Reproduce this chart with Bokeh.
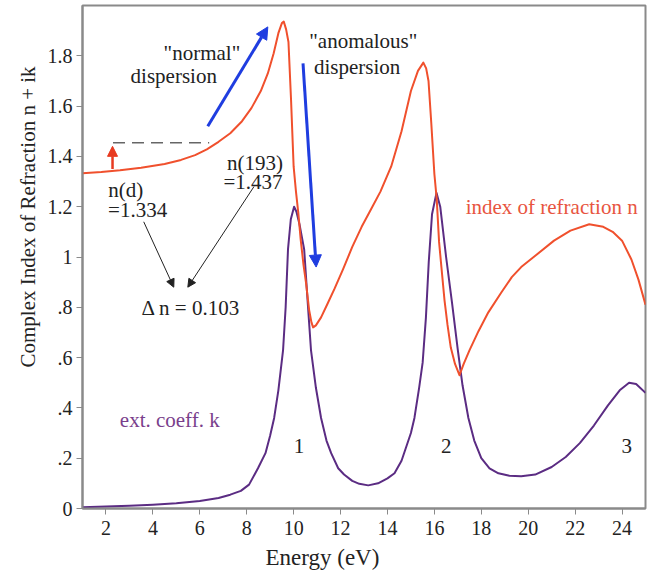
import math
from bokeh.plotting import figure
from bokeh.models import (ColumnDataSource, FixedTicker, Label, Arrow,
                          NormalHead, Title)
from bokeh.embed import file_html
from bokeh.resources import INLINE

# ---- data ----
n_energy = [1.0, 1.8, 2.6, 3.5, 4.5, 5.2, 5.8, 6.3, 6.8, 7.3, 7.8, 8.2, 8.6, 8.9,
            9.15, 9.35, 9.5, 9.58, 9.68, 9.78, 9.89, 10.0, 10.1, 10.2, 10.3,
            10.42, 10.53, 10.66, 10.76, 10.83, 10.95, 11.17, 11.45, 11.75, 12.1,
            12.5, 12.9, 13.3, 13.7, 14.16, 14.6, 15.0, 15.3, 15.53, 15.65, 15.75,
            15.87, 16.0, 16.1, 16.2, 16.3, 16.43, 16.56, 16.7, 16.88, 17.07,
            17.25, 17.5, 17.88, 18.3, 18.86, 19.3, 19.7, 20.3, 21.1, 21.8, 22.6,
            23.2, 23.6, 24.0, 24.4, 24.7, 25.0]
n_values = [1.333, 1.338, 1.345, 1.355, 1.370, 1.386, 1.405, 1.428, 1.458, 1.492,
            1.540, 1.592, 1.660, 1.730, 1.810, 1.890, 1.930, 1.936, 1.905, 1.855,
            1.625, 1.360, 1.260, 1.175, 1.070, 0.970, 0.896, 0.790, 0.740, 0.720,
            0.728, 0.760, 0.815, 0.875, 0.950, 1.040, 1.120, 1.190, 1.260, 1.360,
            1.500, 1.660, 1.740, 1.773, 1.750, 1.700, 1.530, 1.330, 1.230, 1.060,
            0.960, 0.830, 0.730, 0.640, 0.575, 0.530, 0.575, 0.630, 0.705, 0.780,
            0.860, 0.920, 0.960, 1.005, 1.065, 1.105, 1.130, 1.120, 1.100, 1.065,
            0.990, 0.910, 0.810]

k_energy = [1.0, 2.0, 3.0, 4.0, 5.0, 6.0, 6.8, 7.3, 7.75, 8.1, 8.48, 8.8, 9.0,
            9.17, 9.35, 9.55, 9.66, 9.76, 9.88, 10.02, 10.12, 10.25, 10.35, 10.45,
            10.6, 10.74, 10.95, 11.17, 11.4, 11.6, 11.9, 12.15, 12.5, 12.8, 13.18,
            13.6, 14.0, 14.3, 14.6, 15.0, 15.15, 15.35, 15.5, 15.64, 15.76, 15.9,
            16.09, 16.25, 16.5, 16.75, 17.0, 17.2, 17.45, 17.7, 18.0, 18.35, 18.73,
            19.2, 19.7, 20.3, 21.0, 21.6, 22.2, 22.8, 23.4, 23.9, 24.3, 24.6, 25.0]
k_values = [0.005, 0.008, 0.011, 0.015, 0.021, 0.030, 0.042, 0.055, 0.070, 0.095,
            0.160, 0.220, 0.290, 0.360, 0.470, 0.630, 0.800, 1.030, 1.150, 1.200,
            1.180, 1.130, 1.080, 1.030, 0.820, 0.630, 0.480, 0.360, 0.270, 0.220,
            0.160, 0.135, 0.110, 0.098, 0.092, 0.100, 0.120, 0.140, 0.190, 0.300,
            0.360, 0.480, 0.580, 0.760, 0.980, 1.170, 1.255, 1.200, 1.000, 0.820,
            0.630, 0.490, 0.360, 0.270, 0.200, 0.160, 0.140, 0.130, 0.128, 0.135,
            0.165, 0.205, 0.260, 0.330, 0.410, 0.470, 0.500, 0.495, 0.460]

x_ticks = [2, 4, 6, 8, 10, 12, 14, 16, 18, 20, 22, 24]
y_ticks = [0.0, 0.2, 0.4, 0.6, 0.8, 1.0, 1.2, 1.4, 1.6, 1.8]
y_tick_labels = ["0", ".2", ".4", ".6", ".8", "1", "1.2", "1.4", "1.6", "1.8"]

n_d = 1.334
n_193 = 1.437
FONT = "Liberation Serif"
RED = "#f0502d"
PURPLE = "#5b2c83"
BLUE = "#1f3de0"

p = figure(width=650, height=574, x_range=(1, 25), y_range=(0, 2.0),
           output_backend="svg", toolbar_location=None,
           min_border_left=82, min_border_right=5, min_border_top=5,
           min_border_bottom=66)
p.xgrid.visible = False
p.ygrid.visible = False
p.outline_line_color = "#8a8a8a"
p.outline_line_width = 2
p.background_fill_color = "white"

for ax in (p.xaxis[0], p.yaxis[0]):
    ax.axis_line_color = "#8a8a8a"
    ax.axis_line_width = 2
    ax.major_tick_line_color = "#8a8a8a"
    ax.major_tick_out = 6
    ax.major_tick_in = 0
    ax.minor_tick_out = 0
    ax.minor_tick_in = 0
    ax.major_label_text_font = FONT
    ax.major_label_text_font_size = "20px"
    ax.major_label_text_color = "#222222"

p.xaxis.ticker = FixedTicker(ticks=x_ticks)
p.yaxis.ticker = FixedTicker(ticks=y_ticks)
p.yaxis.major_label_overrides = {t: s for t, s in zip(y_ticks, y_tick_labels)}
p.xaxis.major_label_standoff = 6
p.yaxis.major_label_standoff = 4

src_n = ColumnDataSource(dict(x=n_energy, y=n_values))
src_k = ColumnDataSource(dict(x=k_energy, y=k_values))
p.line("x", "y", source=src_k, line_color=PURPLE, line_width=2, line_join="round")
p.line("x", "y", source=src_n, line_color=RED, line_width=2, line_join="round")

# dashed line at n(193)
p.line(x=[2.3, 6.4], y=[1.454, 1.454], line_color="#666666", line_width=1.5,
       line_dash="12 7")

# arrows
p.add_layout(Arrow(x_start=2.28, y_start=1.35, x_end=2.28, y_end=1.44,
                   line_color="#e83a20", line_width=2.5,
                   end=NormalHead(size=10, fill_color="#e83a20", line_color="#e83a20")))
p.add_layout(Arrow(x_start=6.34, y_start=1.52, x_end=8.9, y_end=1.915,
                   line_color=BLUE, line_width=3,
                   end=NormalHead(size=12, fill_color=BLUE, line_color=BLUE)))
p.add_layout(Arrow(x_start=10.4, y_start=1.77, x_end=10.96, y_end=0.96,
                   line_color=BLUE, line_width=3,
                   end=NormalHead(size=12, fill_color=BLUE, line_color=BLUE)))
p.add_layout(Arrow(x_start=3.61, y_start=1.14, x_end=4.89, y_end=0.88,
                   line_color="#222222", line_width=1,
                   end=NormalHead(size=8, fill_color="#222222", line_color="#222222")))
p.add_layout(Arrow(x_start=8.31, y_start=1.28, x_end=5.49, y_end=0.88,
                   line_color="#222222", line_width=1,
                   end=NormalHead(size=8, fill_color="#222222", line_color="#222222")))

def lab(x, y, text, color="#222222", size="21px"):
    p.add_layout(Label(x=x, y=y, text=text, text_font=FONT,
                       text_font_size=size, text_color=color,
                       text_align="center", text_baseline="middle"))

lab(6.09, 1.813, '"normal"')
lab(4.89, 1.721, "dispersion")
lab(12.97, 1.857, '"anomalous"')
lab(12.71, 1.757, "dispersion")
lab(2.84, 1.267, "n(d)")
lab(3.35, 1.187, "=%.3f" % n_d)
lab(8.35, 1.374, "n(193)")
lab(8.27, 1.300, "=%.3f" % n_193)
lab(5.62, 0.797, "\u0394 n = %.3f" % (n_193 - n_d))
lab(21.0, 1.199, "index of refraction n", color="#e8553f")
lab(4.72, 0.351, "ext. coeff. k", color="#7a3f8c")
lab(10.23, 0.247, "1")
lab(16.51, 0.247, "2")
lab(24.2, 0.247, "3")

# axis titles
p.add_layout(Title(text="Energy (eV)", align="left", offset=183,
                   text_font=FONT, text_font_size="23px",
                   text_font_style="normal", text_color="#222222"), "below")
p.add_layout(Title(text="Complex Index of Refraction n + ik", align="left",
                   offset=141, text_font=FONT, text_font_size="21px",
                   text_font_style="normal", text_color="#222222"), "left")

open("out.html", "w").write(file_html(p, INLINE))
